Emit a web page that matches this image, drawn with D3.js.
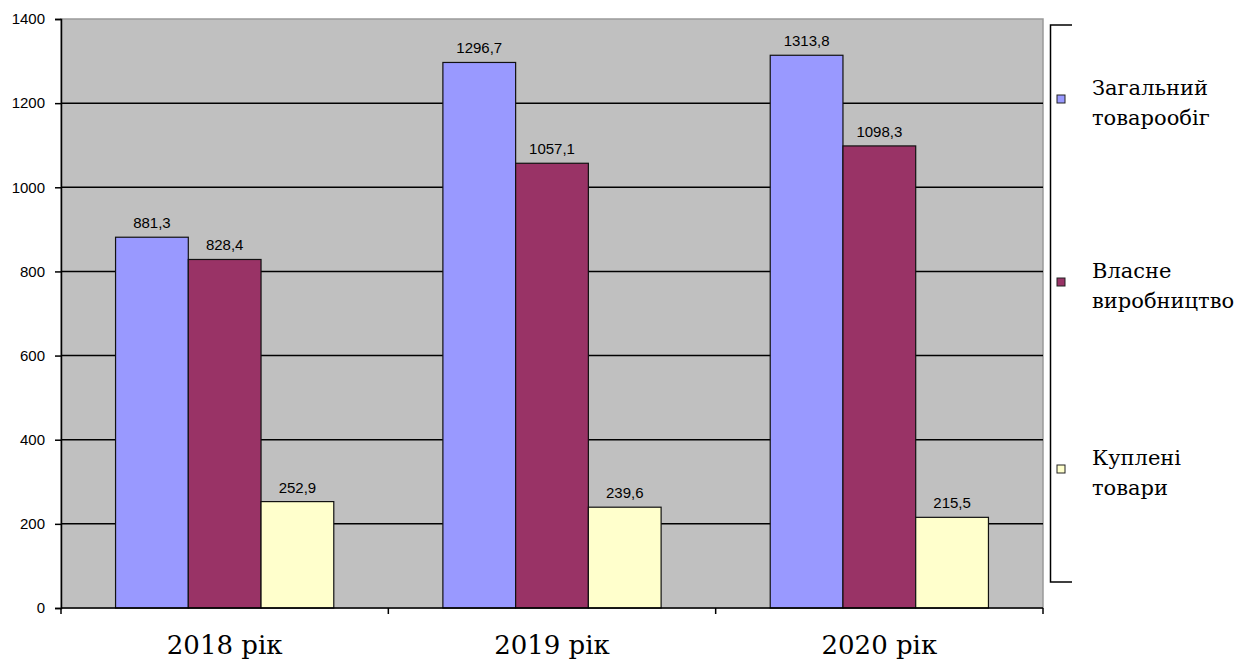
<!DOCTYPE html>
<html>
<head>
<meta charset="utf-8">
<script src="https://cdn.jsdelivr.net/npm/d3@7"></script>
<style>
  html, body { margin: 0; padding: 0; background: #fff; }
  svg { display: block; }
</style>
</head>
<body>
<svg id="chart" width="1240" height="661"></svg>
<script>
// Товарообіг за роками, тис. грн
const categories = ["2018 рік", "2019 рік", "2020 рік"];
const seriesNames = ["Загальний товарообіг", "Власне виробництво", "Куплені товари"];
const legendLines = [["Загальний", "товарообіг"], ["Власне", "виробництво"], ["Куплені", "товари"]];
const totalTurnover = [881.3, 1296.7, 1313.8];
const ownProduction = [828.4, 1057.1, 1098.3];
const purchasedGoods = [252.9, 239.6, 215.5];
const yTicks = [0, 200, 400, 600, 800, 1000, 1200, 1400];
const seriesColors = ["#9999ff", "#993366", "#ffffcc"];

const seriesValues = [totalTurnover, ownProduction, purchasedGoods];
const serifFont = "'DejaVu Serif', 'Liberation Serif', serif";
const sansFont = "'Liberation Sans', Arial, sans-serif";

const svg = d3.select("#chart");
const plot = { left: 61, right: 1043, top: 19, bottom: 608 };

const x = d3.scaleBand().domain(categories).range([plot.left, plot.right]).paddingInner(0).paddingOuter(0);
const bw = x.bandwidth() / 4.5; // Excel-style gap width of 150%
const xs = d3.scaleBand().domain(d3.range(seriesValues.length))
  .range([x.bandwidth() / 2 - 1.5 * bw, x.bandwidth() / 2 + 1.5 * bw]);
const y = d3.scaleLinear().domain([0, 1400]).range([plot.bottom, plot.top]);

// plot background
svg.append("rect")
  .attr("x", plot.left).attr("y", plot.top)
  .attr("width", plot.right - plot.left).attr("height", plot.bottom - plot.top)
  .attr("fill", "#c0c0c0").attr("stroke", "#9a9a9a").attr("stroke-width", 1.5);

// gridlines
svg.append("g").selectAll("line")
  .data(yTicks.filter(t => t > 0 && t < 1400))
  .join("line")
  .attr("x1", plot.left).attr("x2", plot.right)
  .attr("y1", d => y(d)).attr("y2", d => y(d))
  .attr("stroke", "#000").attr("stroke-width", 1.5);

// bars
const groups = svg.append("g").selectAll("g")
  .data(categories)
  .join("g")
  .attr("transform", d => `translate(${x(d)},0)`);

groups.selectAll("rect")
  .data((d, i) => seriesValues.map((s, k) => ({ k, v: s[i] })))
  .join("rect")
  .attr("x", d => xs(d.k))
  .attr("width", xs.bandwidth())
  .attr("y", d => y(d.v))
  .attr("height", d => y(0) - y(d.v))
  .attr("fill", d => seriesColors[d.k])
  .attr("stroke", "#111")
  .attr("stroke-width", 1.2);

groups.selectAll("text")
  .data((d, i) => seriesValues.map((s, k) => ({ k, v: s[i] })))
  .join("text")
  .attr("x", d => xs(d.k) + xs.bandwidth() / 2)
  .attr("y", d => y(d.v) - 9)
  .attr("text-anchor", "middle")
  .attr("font-family", sansFont)
  .attr("font-size", 15)
  .attr("fill", "#000")
  .text(d => d3.format(".1f")(d.v).replace(".", ","));

// y axis
const yAxis = svg.append("g")
  .attr("transform", `translate(${plot.left},0)`)
  .call(d3.axisLeft(y).tickValues(yTicks).tickSize(6).tickPadding(10).tickFormat(d3.format("d")));
yAxis.select(".domain").attr("stroke", "#000").attr("stroke-width", 1.5);
yAxis.selectAll(".tick line").attr("stroke", "#000").attr("stroke-width", 1.5);
yAxis.selectAll(".tick text")
  .attr("font-family", sansFont)
  .attr("font-size", 15).attr("fill", "#000");

// x axis: ticks at category boundaries, labels centered under groups
const xAxis = svg.append("g")
  .attr("transform", `translate(0,${plot.bottom})`);
xAxis.append("line")
  .attr("x1", plot.left).attr("x2", plot.right)
  .attr("stroke", "#000").attr("stroke-width", 1.5);
xAxis.selectAll("line.tick")
  .data(categories.map(c => x(c)).concat([plot.right]))
  .join("line").attr("class", "tick")
  .attr("x1", d => d).attr("x2", d => d)
  .attr("y1", 0).attr("y2", 6)
  .attr("stroke", "#000").attr("stroke-width", 1.5);
xAxis.selectAll("text")
  .data(categories)
  .join("text")
  .attr("x", d => x(d) + x.bandwidth() / 2)
  .attr("y", 46)
  .attr("text-anchor", "middle")
  .attr("font-family", serifFont)
  .attr("font-size", 26)
  .attr("fill", "#000")
  .text(d => d);

// legend
const lg = svg.append("g");
lg.append("path")
  .attr("d", "M1072,25 H1050.5 V582 H1072")
  .attr("fill", "none").attr("stroke", "#000").attr("stroke-width", 1.5);

const markerY = [99, 282, 469];
const items = lg.selectAll("g.item")
  .data(seriesNames)
  .join("g").attr("class", "item")
  .attr("transform", (d, i) => `translate(0,${markerY[i]})`);
items.append("rect")
  .attr("x", 1057).attr("y", -4).attr("width", 8).attr("height", 8)
  .attr("fill", (d, i) => seriesColors[i]).attr("stroke", "#222").attr("stroke-width", 1);
items.append("text")
  .attr("font-family", serifFont)
  .attr("font-size", 21)
  .attr("fill", "#000")
  .selectAll("tspan")
  .data((d, i) => legendLines[i])
  .join("tspan")
  .attr("x", 1092)
  .attr("y", (d, j) => j === 0 ? -4 : 26)
  .text(d => d);
</script>
</body>
</html>
